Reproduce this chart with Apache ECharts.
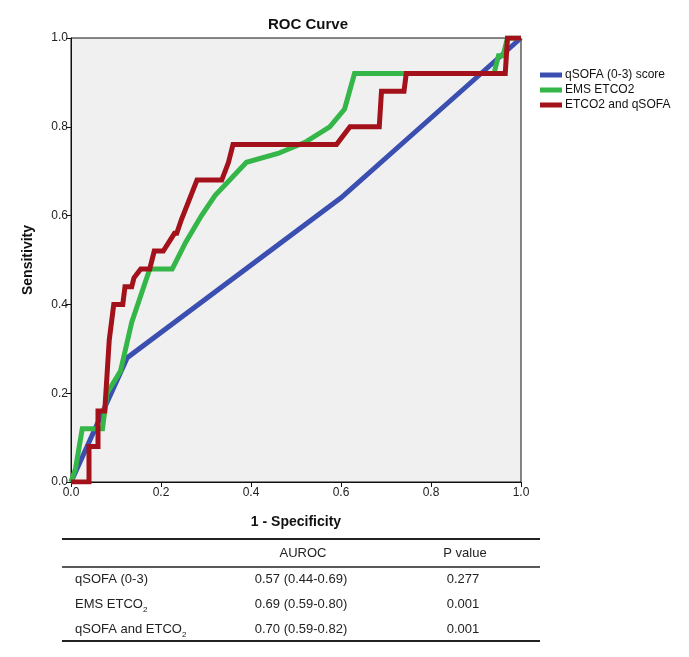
<!DOCTYPE html>
<html>
<head>
<meta charset="utf-8">
<script src="https://cdn.jsdelivr.net/npm/echarts@6/dist/echarts.min.js"></script>
<style>
  html, body { margin: 0; padding: 0; background: #fff; }
  #chart { width: 689px; height: 657px; }
</style>
</head>
<body>
<div id="chart"></div>
<script>
// ROC curves, [1 - specificity, sensitivity]
var qsofaPts = [[0, 0], [0.125, 0.28], [0.6, 0.64], [1, 1]];
var etco2Pts = [
    [0, 0], [0.01, 0.03], [0.025, 0.12], [0.07, 0.12], [0.08, 0.2], [0.11, 0.25],
    [0.135, 0.36], [0.175, 0.48], [0.225, 0.48], [0.255, 0.54], [0.29, 0.6],
    [0.32, 0.645], [0.39, 0.72], [0.46, 0.74], [0.52, 0.765], [0.575, 0.8],
    [0.608, 0.84], [0.63, 0.92], [0.94, 0.92], [0.95, 0.96], [0.96, 0.96],
    [0.97, 1], [1, 1]
];
var comboPts = [
    [0, 0], [0.04, 0], [0.04, 0.08], [0.06, 0.08], [0.06, 0.16], [0.075, 0.16],
    [0.08, 0.24], [0.085, 0.32], [0.095, 0.4], [0.115, 0.4], [0.12, 0.44],
    [0.135, 0.44], [0.14, 0.46], [0.155, 0.48], [0.175, 0.48], [0.185, 0.52],
    [0.205, 0.52], [0.23, 0.56], [0.235, 0.56], [0.245, 0.59], [0.28, 0.68],
    [0.335, 0.68], [0.35, 0.72], [0.36, 0.76], [0.59, 0.76], [0.62, 0.8],
    [0.685, 0.8], [0.69, 0.88], [0.74, 0.88], [0.745, 0.92], [0.965, 0.92],
    [0.97, 1], [1, 1]
];
var seriesNames = ["qSOFA (0-3) score", "EMS ETCO2", "ETCO2 and qSOFA"];
var seriesColors = ["#3b4fb0", "#34b648", "#a3111a"];

// table under the chart
var tableHeader = ["", "AUROC", "P value"];
var tableLabels = ["qSOFA (0-3)", "EMS ETCO{s|2}", "qSOFA and ETCO{s|2}"];
var tableAuroc = ["0.57 (0.44-0.69)", "0.69 (0.59-0.80)", "0.70 (0.59-0.82)"];
var tablePvals = ["0.277", "0.001", "0.001"];

var font = "'Liberation Sans', Arial, sans-serif";
var chart = echarts.init(document.getElementById("chart"));

var graphics = [];
function hline(y, w) {
    graphics.push({
        type: "line",
        shape: { x1: 62, y1: y, x2: 540, y2: y },
        style: { stroke: "#222", lineWidth: w }
    });
}
function cell(txt, x, y, align) {
    graphics.push({
        type: "text",
        x: x, y: y,
        style: {
            text: txt, fontFamily: font, fontSize: 13, fill: "#222",
            align: align, verticalAlign: "middle",
            rich: { s: { fontSize: 8, fontFamily: font, fill: "#222", padding: [12, 0, 0, 0] } }
        }
    });
}
hline(539, 2);
hline(567, 1.5);
hline(641, 2);
cell(tableHeader[1], 303, 553, "center");
cell(tableHeader[2], 465, 553, "center");
for (var i = 0; i < tableLabels.length; i++) {
    var ry = 579 + i * 25;
    cell(tableLabels[i], 75, ry, "left");
    cell(tableAuroc[i], 301, ry, "center");
    cell(tablePvals[i], 463, ry, "center");
}

var option = {
    animation: false,
    backgroundColor: "#fff",
    title: {
        text: "ROC Curve",
        left: 303, top: 12, textAlign: "center",
        textStyle: { fontFamily: font, fontSize: 15, fontWeight: "bold", color: "#111" }
    },
    legend: {
        orient: "vertical",
        left: 540, top: 69, padding: 0,
        itemWidth: 22, itemHeight: 5, itemGap: 3,
        icon: "rect",
        data: seriesNames,
        textStyle: { fontFamily: font, fontSize: 12, color: "#111", padding: [0, 0, 0, -2] }
    },
    grid: {
        left: 71, top: 38, width: 450, height: 444,
        show: true, backgroundColor: "#f0f0f0", borderColor: "#111", borderWidth: 1
    },
    xAxis: {
        type: "value", min: 0, max: 1, interval: 0.2,
        name: "1 - Specificity", nameLocation: "middle", nameGap: 33,
        nameTextStyle: { fontFamily: font, fontSize: 14, fontWeight: "bold", color: "#111" },
        axisLine: { show: true, lineStyle: { color: "#111", width: 1 } },
        axisTick: { show: true, length: 5, lineStyle: { color: "#111" } },
        axisLabel: {
            fontFamily: font, fontSize: 12, color: "#222", margin: 5,
            formatter: function(v) { return v.toFixed(1); }
        },
        splitLine: { show: false }
    },
    yAxis: {
        type: "value", min: 0, max: 1, interval: 0.2,
        name: "Sensitivity", nameLocation: "middle", nameGap: 36,
        nameTextStyle: { fontFamily: font, fontSize: 14, fontWeight: "bold", color: "#111" },
        axisLine: { show: true, lineStyle: { color: "#111", width: 1 } },
        axisTick: { show: true, length: 5, lineStyle: { color: "#111" } },
        axisLabel: {
            fontFamily: font, fontSize: 12, color: "#222", margin: 3,
            formatter: function(v) { return v.toFixed(1); }
        },
        splitLine: { show: false }
    },
    series: [qsofaPts, etco2Pts, comboPts].map(function(pts, k) {
        return {
            name: seriesNames[k],
            type: "line",
            data: pts,
            symbol: "none",
            color: seriesColors[k],
            lineStyle: { width: 5, color: seriesColors[k], join: "miter" },
            z: 2 + k
        };
    }),
    graphic: graphics
};
chart.setOption(option);
</script>
</body>
</html>
